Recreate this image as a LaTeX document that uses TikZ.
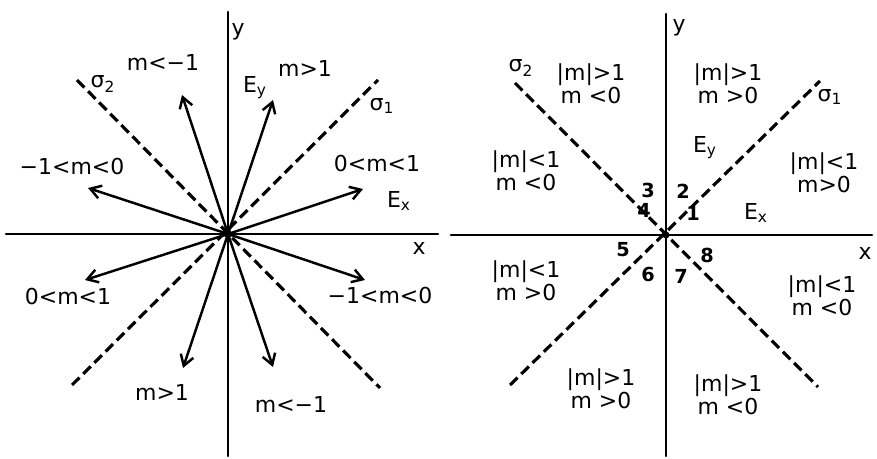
\documentclass[tikz,border=0pt]{standalone}
\usepackage{fontspec}
\setmainfont{DejaVu Sans}
\usetikzlibrary{arrows.meta}

\begin{document}
\begin{tikzpicture}[x=0.02cm,y=-0.02cm,line cap=round,
  axis/.style={line width=1.5pt},
  vec/.style={line width=1.4pt,-{Straight Barb[length=6pt,width=7.5pt,line width=1.4pt]}},
  diag/.style={line width=1.8pt,line cap=butt,dash pattern=on 6pt off 3pt},
  lbl/.style={font=\fontsize{12.5}{13}\selectfont,inner sep=1pt,align=center},
  num/.style={font=\fontsize{11}{12}\selectfont\bfseries,inner sep=1pt}]

% picture is laid out in pixels of the 877x459 frame (y downwards)
\useasboundingbox (0,0) rectangle (877,459);

% ---- LEFT: directions of E ----
\coordinate (OL) at (228,234);
\coordinate (yLtop) at (228,12);
\coordinate (yLbot) at (228,456);
\coordinate (xLlft) at (6,234);
\coordinate (xLrgt) at (438,234);
\draw[axis] (xLlft) -- (xLrgt);
\draw[axis] (yLbot) -- (yLtop);

% dashed bisectors
\coordinate (s1Llo) at (72,385);
\coordinate (s1Lhi) at (378,80);
\coordinate (s2Lhi) at (77,80);
\coordinate (s2Llo) at (380,388);
\draw[diag] (s1Llo) -- (s1Lhi);
\draw[diag] (s2Lhi) -- (s2Llo);

% field vectors
\coordinate (vUL) at (182,95);
\coordinate (vUR) at (273,100);
\coordinate (vR) at (363,189);
\coordinate (vL) at (88,188);
\coordinate (vDL) at (85,280);
\coordinate (vDR) at (365,280);
\coordinate (vD1) at (183,368);
\coordinate (vD2) at (273,367);
\draw[vec] (OL) -- (vUL);
\draw[vec] (OL) -- (vUR);
\draw[vec] (OL) -- (vR);
\draw[vec] (OL) -- (vL);
\draw[vec] (OL) -- (vDL);
\draw[vec] (OL) -- (vDR);
\draw[vec] (OL) -- (vD1);
\draw[vec] (OL) -- (vD2);
\fill (OL) circle (4);

% labels
\node[lbl] (yL) at (238,32) {y};
\node[lbl] (xL) at (419,248) {x};
\node[lbl] (sig2L) at (103,84) {σ\textsubscript{2}};
\node[lbl] (sig1L) at (382,106) {σ\textsubscript{1}};
\node[lbl] (EyL) at (255,88) {E\textsubscript{y}};
\node[lbl] (ExL) at (399,201) {E\textsubscript{x}};
\node[lbl] (mUL) at (163,62) {m<−1};
\node[lbl] (mUR) at (305,68) {m>1};
\node[lbl] (mL) at (72,167) {−1<m<0};
\node[lbl] (mR) at (377,164) {0<m<1};
\node[lbl] (mDL) at (68,297) {0<m<1};
\node[lbl] (mDR) at (380,296) {−1<m<0};
\node[lbl] (mD1) at (162,392) {m>1};
\node[lbl] (mD2) at (291,404) {m<−1};

% ---- RIGHT: regions of m ----
\coordinate (OR) at (666,235);
\coordinate (yRtop) at (666,14);
\coordinate (yRbot) at (666,456);
\coordinate (xRlft) at (451,235);
\coordinate (xRrgt) at (872,235);
\draw[axis] (xRlft) -- (xRrgt);
\draw[axis] (yRbot) -- (yRtop);

\coordinate (s1Rlo) at (510,385);
\coordinate (s1Rhi) at (820,81);
\coordinate (s2Rhi) at (515,83);
\coordinate (s2Rlo) at (818,387);
\draw[diag] (s1Rlo) -- (s1Rhi);
\draw[diag] (s2Rhi) -- (s2Rlo);
\fill (OR) circle (3.5);

\node[lbl] (yR) at (679,28) {y};
\node[lbl] (xR) at (865,253) {x};
\node[lbl] (sig2R) at (521,68) {σ\textsubscript{2}};
\node[lbl] (sig1R) at (830,97) {σ\textsubscript{1}};
\node[lbl] (EyR) at (705,148) {E\textsubscript{y}};
\node[lbl] (ExR) at (756,213) {E\textsubscript{x}};

\node[lbl] (rUL) at (591,84) {|m|>1\\m <0};
\node[lbl] (rUR) at (728,84) {|m|>1\\m >0};
\node[lbl] (rLU) at (526,171) {|m|<1\\m <0};
\node[lbl] (rRU) at (824,173) {|m|<1\\m>0};
\node[lbl] (rLD) at (526,281) {|m|<1\\m >0};
\node[lbl] (rRD) at (822,296) {|m|<1\\m <0};
\node[lbl] (rDL) at (601,389) {|m|>1\\m >0};
\node[lbl] (rDR) at (728,395) {|m|>1\\m <0};

% octant numbers
\node[num] (n1) at (693,213) {1};
\node[num] (n2) at (683,191) {2};
\node[num] (n3) at (648,190) {3};
\node[num] (n4) at (644,210) {4};
\node[num] (n5) at (623,250) {5};
\node[num] (n6) at (648,274) {6};
\node[num] (n7) at (681,276) {7};
\node[num] (n8) at (707,255) {8};

\end{tikzpicture}
\end{document}
